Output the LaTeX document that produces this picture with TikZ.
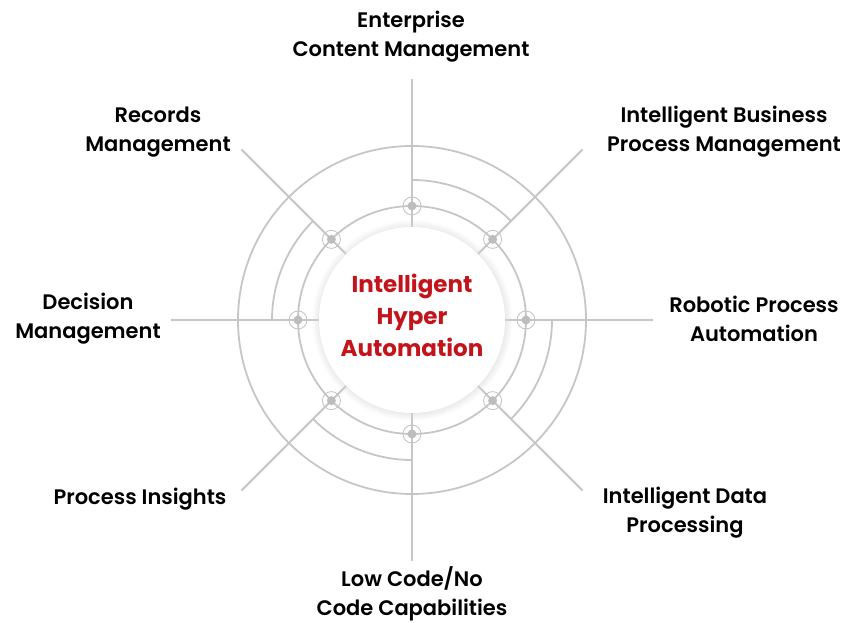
\documentclass[tikz,border=0pt]{standalone}
\usepackage{fontspec}
\setmainfont{Poppins}
\newfontface\labelfont{Poppins SemiBold}
\usetikzlibrary{shadows,fadings}
\definecolor{spokegray}{HTML}{C6C6C6}
\definecolor{hubgray}{HTML}{BDBDBD}
\definecolor{hyperred}{HTML}{C3141C}

\begin{document}
\begin{tikzpicture}[x=1pt, y=1pt, line width=1.8pt]
	\tikzstyle{spoke}=[draw=spokegray, line width=1.8pt]
	\tikzstyle{hub}=[circle, fill=hubgray, inner sep=0pt, minimum size=9pt]
	\tikzstyle{halo}=[circle, draw=spokegray, line width=0.9pt, inner sep=0pt, minimum size=18pt]
	\tikzstyle{caption}=[align=center, font=\labelfont\fontsize{21}{29}\selectfont, text=black]

	\useasboundingbox (0,0) rectangle (843,623);
	\coordinate (Centre) at (412,303);

	% ends of the spokes
	\coordinate (eECM) at ([shift={(90:241)}]Centre);
	\coordinate (eIBPM) at ([shift={(45:241)}]Centre);
	\coordinate (eRPA) at ([shift={(0:241)}]Centre);
	\coordinate (eIDP) at ([shift={(-45:241)}]Centre);
	\coordinate (eLCNC) at ([shift={(-90:241)}]Centre);
	\coordinate (ePI) at ([shift={(-135:241)}]Centre);
	\coordinate (eDM) at ([shift={(180:241)}]Centre);
	\coordinate (eRM) at ([shift={(135:241)}]Centre);

	\draw[spoke] (Centre) -- (eECM);
	\draw[spoke] (Centre) -- (eIBPM);
	\draw[spoke] (Centre) -- (eRPA);
	\draw[spoke] (Centre) -- (eIDP);
	\draw[spoke] (Centre) -- (eLCNC);
	\draw[spoke] (Centre) -- (ePI);
	\draw[spoke] (Centre) -- (eDM);
	\draw[spoke] (Centre) -- (eRM);

	% rings
	\draw[spoke] (Centre) circle[radius=174];
	\draw[spoke] (Centre) circle[radius=114];
	\draw[spoke] ([shift={(90:140)}]Centre) arc[start angle=90, end angle=45, radius=140];
	\draw[spoke] ([shift={(0:140)}]Centre) arc[start angle=0, end angle=-45, radius=140];
	\draw[spoke] ([shift={(-90:140)}]Centre) arc[start angle=-90, end angle=-135, radius=140];
	\draw[spoke] ([shift={(180:140)}]Centre) arc[start angle=180, end angle=135, radius=140];

	% core
	\node[circle, fill=white, inner sep=0pt, minimum size=186pt, circular glow={fill=gray!30, shadow scale=1.08}] (Core) at (Centre) {};
	\node[align=center, text=hyperred, font=\bfseries\fontsize{23}{32}\selectfont] (Title) at ([yshift=5pt]Centre) {Intelligent\\Hyper\\Automation};

	% hubs on the inner ring
	\node[halo] (rECM) at ([shift={(90:114)}]Centre) {};
	\node[hub] (hECM) at (rECM) {};
	\node[halo] (rIBPM) at ([shift={(45:114)}]Centre) {};
	\node[hub] (hIBPM) at (rIBPM) {};
	\node[halo] (rRPA) at ([shift={(0:114)}]Centre) {};
	\node[hub] (hRPA) at (rRPA) {};
	\node[halo] (rIDP) at ([shift={(-45:114)}]Centre) {};
	\node[hub] (hIDP) at (rIDP) {};
	\node[halo] (rLCNC) at ([shift={(-90:114)}]Centre) {};
	\node[hub] (hLCNC) at (rLCNC) {};
	\node[halo] (rPI) at ([shift={(-135:114)}]Centre) {};
	\node[hub] (hPI) at (rPI) {};
	\node[halo] (rDM) at ([shift={(180:114)}]Centre) {};
	\node[hub] (hDM) at (rDM) {};
	\node[halo] (rRM) at ([shift={(135:114)}]Centre) {};
	\node[hub] (hRM) at (rRM) {};

	% captions
	\node[caption] (ECM) at (411,586) {Enterprise\\Content Management};
	\node[caption] (IBPM) at (724,491) {Intelligent Business\\Process Management};
	\node[caption] (RPA) at (754,304) {Robotic Process\\Automation};
	\node[caption] (IDP) at (685,110) {Intelligent Data\\Processing};
	\node[caption] (LCNC) at (412,29) {Low Code/No\\Code Capabilities};
	\node[caption] (PI) at (140,124) {Process Insights};
	\node[caption] (DM) at (88,304) {Decision\\Management};
	\node[caption] (RM) at (158,491) {Records\\Management};
\end{tikzpicture}
\end{document}
